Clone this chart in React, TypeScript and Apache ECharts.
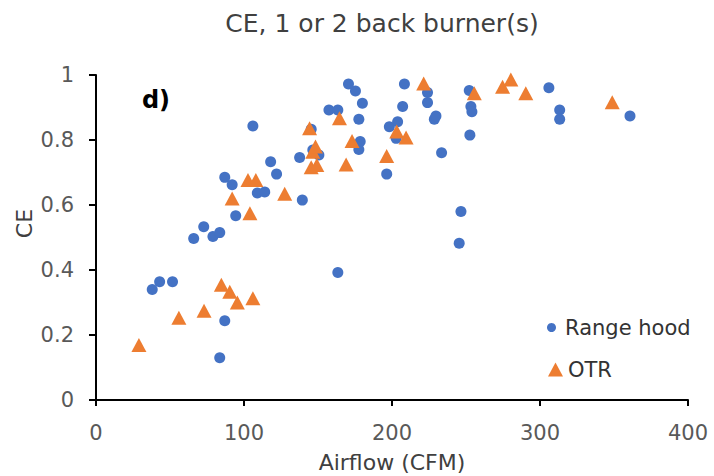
import React, { useEffect, useRef } from "react";
import * as echarts from "echarts";

const titleText = "CE, 1 or 2 back burner(s)";
const xAxisName = "Airflow (CFM)";
const yAxisName = "CE";
const panelLabel = "d)";
const seriesNames = ["Range hood", "OTR"];

const rangeHoodAirflow = [
  38, 43, 51.7, 66, 72.8, 79, 83.6, 83.6, 87, 87, 92, 94.4, 106, 109, 114, 118, 122,
  137.6, 139.4, 145.4, 146.5, 150.6, 157.4, 163.4, 163.4, 170.6, 175.3, 177.6, 177.6,
  178.5, 180, 196.4, 198.2, 202.8, 203.8, 207.2, 208.4, 224, 224, 228.6, 229.7, 233.5,
  245.4, 246.6, 252.2, 253.3, 254, 252.6, 290.8, 306, 313.3, 313.3, 360.8,
];
const rangeHoodCE = [
  0.34, 0.364, 0.364, 0.497, 0.533, 0.503, 0.515, 0.13, 0.244, 0.685, 0.662, 0.567, 0.843,
  0.637, 0.64, 0.733, 0.695, 0.746, 0.615, 0.833, 0.769, 0.754, 0.892, 0.892, 0.392,
  0.972, 0.951, 0.864, 0.771, 0.795, 0.913, 0.695, 0.841, 0.805, 0.856, 0.903, 0.972,
  0.946, 0.915, 0.864, 0.874, 0.761, 0.482, 0.58, 0.952, 0.903, 0.887, 0.815, 1.005,
  0.961, 0.892, 0.864, 0.874,
];

const otrAirflow = [
  29, 56, 73, 84.7, 90.4, 95.5, 106, 92, 102.7, 104, 108, 127.5, 144.3, 145.4, 146.5,
  148.3, 149.2, 164.5, 169, 173, 196.4, 203.2, 209.5, 221.4, 255.6, 274.7, 280.3, 290.4,
  348.8,
];
const otrCE = [
  0.169, 0.253, 0.275, 0.355, 0.333, 0.3, 0.313, 0.62, 0.677, 0.575, 0.677, 0.635, 0.836,
  0.716, 0.764, 0.78, 0.723, 0.867, 0.725, 0.797, 0.751, 0.826, 0.808, 0.974, 0.944,
  0.964, 0.986, 0.944, 0.916,
];

const xTicks = { min: 0, max: 400, interval: 100 };
const yTicks = { min: 0, max: 1, interval: 0.2 };

const FONT = "'DejaVu Sans', Verdana, sans-serif";

export default function App() {
  const ref = useRef<HTMLDivElement>(null);
  useEffect(() => {
    if (!ref.current) return;
    const chart = echarts.init(ref.current, null, { renderer: "svg" });
    const rh = rangeHoodAirflow.map((x, i) => [x, rangeHoodCE[i]]);
    const otr = otrAirflow.map((x, i) => [x, otrCE[i]]);
    const legendText = { fontFamily: FONT, fontSize: 21, color: "#333333" };
    chart.setOption({
      animation: false,
      backgroundColor: "#ffffff",
      grid: { left: 96, top: 75, right: 26, bottom: 76, outerBoundsMode: "none" },
      xAxis: {
        type: "value",
        min: xTicks.min,
        max: xTicks.max,
        interval: xTicks.interval,
        name: xAxisName,
        nameLocation: "middle",
        nameGap: 51,
        nameTextStyle: { fontFamily: FONT, fontSize: 22, color: "#404040" },
        axisLine: { show: true, onZero: false, lineStyle: { color: "#000", width: 2 } },
        axisTick: { show: true, inside: false, length: 6, lineStyle: { color: "#000", width: 2 } },
        axisLabel: { fontFamily: FONT, fontSize: 21, color: "#595959", margin: 22 },
        splitLine: { show: false },
      },
      yAxis: {
        type: "value",
        min: yTicks.min,
        max: yTicks.max,
        interval: yTicks.interval,
        axisLine: { show: true, onZero: false, lineStyle: { color: "#000", width: 2 } },
        axisTick: { show: true, inside: false, length: 7, lineStyle: { color: "#000", width: 2 } },
        axisLabel: { fontFamily: FONT, fontSize: 21, color: "#595959", margin: 22 },
        splitLine: { show: false },
      },
      legend: [
        {
          data: [{ name: seriesNames[0], icon: "circle" }],
          orient: "vertical",
          left: 547,
          top: 317,
          itemWidth: 17,
          itemHeight: 9,
          itemGap: 0,
          padding: 0,
          textStyle: legendText,
          selectedMode: false,
        },
        {
          data: [{ name: seriesNames[1], icon: "triangle" }],
          orient: "vertical",
          left: 548,
          top: 359,
          itemWidth: 15,
          itemHeight: 14,
          itemGap: 0,
          padding: 0,
          textStyle: legendText,
          selectedMode: false,
        },
      ],
      graphic: [
        {
          type: "text",
          x: 382,
          y: 23,
          style: {
            text: titleText,
            fontFamily: FONT,
            fontSize: 25,
            fill: "#404040",
            textAlign: "center",
            textVerticalAlign: "middle",
          },
        },
        {
          type: "text",
          x: 24.5,
          y: 223.5,
          rotation: Math.PI / 2,
          style: {
            text: yAxisName,
            fontFamily: FONT,
            fontSize: 22,
            fill: "#404040",
            textAlign: "center",
            textVerticalAlign: "middle",
          },
        },
        {
          type: "text",
          x: 156,
          y: 100,
          style: {
            text: panelLabel,
            fontFamily: FONT,
            fontSize: 24,
            fontWeight: "bold",
            fill: "#000",
            textAlign: "center",
            textVerticalAlign: "middle",
          },
        },
      ],
      series: [
        {
          name: seriesNames[0],
          type: "scatter",
          data: rh,
          symbol: "circle",
          symbolSize: 11,
          itemStyle: { color: "#4472C4", opacity: 1 },
          z: 2,
        },
        {
          name: seriesNames[1],
          type: "scatter",
          data: otr,
          symbol: "triangle",
          symbolSize: [15, 14],
          itemStyle: { color: "#ED7D31", opacity: 1 },
          z: 3,
        },
      ],
    });
    return () => chart.dispose();
  }, []);
  return (
    <div
      ref={ref}
      style={{ position: "absolute", left: 0, top: 0, width: 714, height: 476 }}
    />
  );
}
